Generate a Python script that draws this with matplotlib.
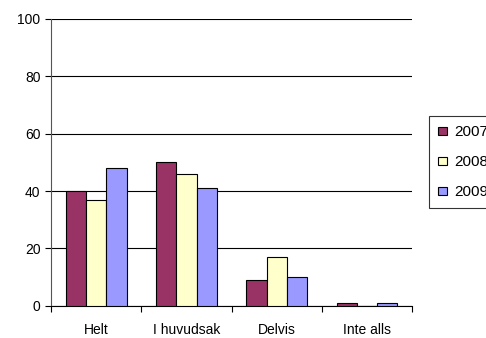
import numpy as np
import matplotlib.pyplot as plt

plt.rcParams['font.family'] = ['Liberation Sans', 'DejaVu Sans']

kategorier = ['Helt', 'I huvudsak', 'Delvis', 'Inte alls']
ar = ['2007', '2008', '2009']
v2007 = [40, 50, 9, 1]
v2008 = [37, 46, 17, 0]
v2009 = [48, 41, 10, 1]
farger = ['#993366', '#FFFFCC', '#9999FF']

fig = plt.figure(figsize=(4.86, 3.38), dpi=100)
ax = fig.add_axes([0.105, 0.095, 0.743, 0.849])

x = np.arange(len(kategorier))
w = 0.225
for i, (vals, lab, c) in enumerate(zip([v2007, v2008, v2009], ar, farger)):
    ax.bar(x + (i - 1) * w, vals, w, color=c, edgecolor='black', linewidth=0.8,
           label=lab, zorder=3)

ax.set_xlim(-0.5, len(kategorier) - 0.5)
ax.set_ylim(0, 100)
ax.set_yticks(range(0, 101, 20))
ax.yaxis.grid(True, color='black', linewidth=0.8, zorder=0)
ax.set_axisbelow(True)

ax.set_xticks(x)
ax.set_xticklabels(kategorier)
ax.tick_params(axis='x', length=0, pad=12, labelsize=10)
ax.set_xticks(np.arange(-0.5, len(kategorier), 1), minor=True)
ax.tick_params(axis='x', which='minor', length=4, direction='out', width=0.8)
ax.tick_params(axis='y', length=4, direction='out', width=0.8, labelsize=10)

for s in ['top', 'right']:
    ax.spines[s].set_visible(False)
ax.spines['left'].set_color('#555555')
ax.spines['bottom'].set_color('black')

leg = fig.legend(loc='upper left', bbox_to_anchor=(0.883, 0.657), frameon=True,
                 fancybox=False, edgecolor='black', fontsize=11,
                 handlelength=0.6, handleheight=0.45, handletextpad=0.45,
                 labelspacing=1.05, borderpad=0.6, borderaxespad=0)
leg.get_frame().set_linewidth(0.8)

fig.savefig('out.png', dpi=100)
